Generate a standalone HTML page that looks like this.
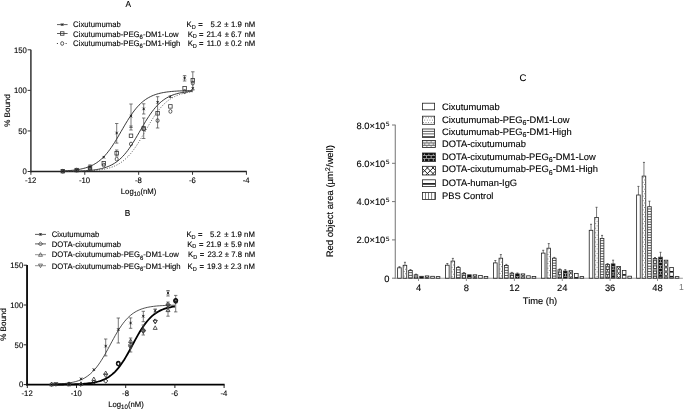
<!DOCTYPE html>
<html><head><meta charset="utf-8"><style>
html,body{margin:0;padding:0;background:#fff;}
svg{display:block;font-family:'Liberation Sans', Arial, Helvetica, sans-serif;text-rendering:geometricPrecision;}
text{fill:#000;stroke:#000;stroke-width:0.12px;}
</style></head><body>
<svg width="685" height="409" viewBox="0 0 685 409">
<rect width="685" height="409" fill="#fff"/>
<text transform="scale(0.965 1)" x="132.85" y="7.3" font-size="8.6" text-anchor="middle" >A</text>
<line x1="30.9" y1="49.8" x2="30.9" y2="172.2" stroke="#333" stroke-width="1.5" />
<line x1="30.2" y1="171.5" x2="246.8" y2="171.5" stroke="#222" stroke-width="1.3" />
<line x1="27.6" y1="49.8" x2="30.9" y2="49.8" stroke="#333" stroke-width="1.0" />
<text transform="scale(0.965 1)" x="27.77" y="52.5" font-size="8.0" text-anchor="end" >150</text>
<line x1="27.6" y1="90.37" x2="30.9" y2="90.37" stroke="#333" stroke-width="1.0" />
<text transform="scale(0.965 1)" x="27.77" y="93.07" font-size="8.0" text-anchor="end" >100</text>
<line x1="27.6" y1="130.94" x2="30.9" y2="130.94" stroke="#333" stroke-width="1.0" />
<text transform="scale(0.965 1)" x="27.77" y="133.63" font-size="8.0" text-anchor="end" >50</text>
<line x1="27.6" y1="171.5" x2="30.9" y2="171.5" stroke="#333" stroke-width="1.0" />
<text transform="scale(0.965 1)" x="27.77" y="174.2" font-size="8.0" text-anchor="end" >0</text>
<line x1="30.9" y1="171.5" x2="30.9" y2="174.8" stroke="#333" stroke-width="1.0" />
<text transform="scale(0.965 1)" x="31.81" y="182.9" font-size="8.0" text-anchor="middle" >-12</text>
<line x1="84.78" y1="171.5" x2="84.78" y2="174.8" stroke="#333" stroke-width="1.0" />
<text transform="scale(0.965 1)" x="87.65" y="182.9" font-size="8.0" text-anchor="middle" >-10</text>
<line x1="138.66" y1="171.5" x2="138.66" y2="174.8" stroke="#333" stroke-width="1.0" />
<text transform="scale(0.965 1)" x="143.48" y="182.9" font-size="8.0" text-anchor="middle" >-8</text>
<line x1="192.54" y1="171.5" x2="192.54" y2="174.8" stroke="#333" stroke-width="1.0" />
<text transform="scale(0.965 1)" x="199.32" y="182.9" font-size="8.0" text-anchor="middle" >-6</text>
<line x1="246.42" y1="171.5" x2="246.42" y2="174.8" stroke="#333" stroke-width="1.0" />
<text transform="scale(0.965 1)" x="255.15" y="182.9" font-size="8.0" text-anchor="middle" >-4</text>
<text transform="translate(10.4 110.5) rotate(-90)" font-size="8.0" text-anchor="middle">% Bound</text>
<text transform="scale(0.965 1)" x="143.63" y="193.8" font-size="8.0" text-anchor="middle" >Log<tspan font-size="6.3" dy="1.8">10</tspan><tspan dy="-1.8">(nM)</tspan></text>
<line x1="57" y1="24.6" x2="67.6" y2="24.6" stroke="#333" stroke-width="0.8" />
<path d="M60.95 23.35L63.45 25.85M60.95 25.85L63.45 23.35M62.2 23.35L62.2 25.85" stroke="#222" stroke-width="0.8" fill="none"/>
<text transform="scale(0.965 1)" x="75.75" y="27.3" font-size="8.0" text-anchor="start" xml:space="preserve">Cixutumumab</text>
<text transform="scale(0.965 1)" x="193.26" y="27.3" font-size="8.0" text-anchor="start" >K<tspan font-size="5.8" dy="1.9">D</tspan></text>
<text transform="scale(0.965 1)" x="205.49" y="27.3" font-size="8.0" text-anchor="start" >=</text>
<text transform="scale(0.965 1)" x="218.24" y="27.3" font-size="8.0" text-anchor="start" >5.2</text>
<text transform="scale(0.965 1)" x="232.33" y="27.3" font-size="8.0" text-anchor="start" >±</text>
<text transform="scale(0.965 1)" x="239.38" y="27.3" font-size="8.0" text-anchor="start" >1.9</text>
<text transform="scale(0.965 1)" x="253.37" y="27.3" font-size="8.0" text-anchor="start" >nM</text>
<line x1="57" y1="33.5" x2="67.6" y2="33.5" stroke="#333" stroke-width="0.8" />
<rect x="60.45" y="31.75" width="3.5" height="3.5" stroke="#333" stroke-width="0.8" fill="none"/>
<text transform="scale(0.965 1)" x="75.75" y="36.5" font-size="8.0" text-anchor="start" xml:space="preserve">Cixutumumab-PEG<tspan font-size="6.2" dy="2.1">6</tspan><tspan dy="-2.1">-DM1-Low</tspan></text>
<text transform="scale(0.965 1)" x="194.51" y="36.5" font-size="8.0" text-anchor="start" >K<tspan font-size="5.8" dy="1.9">D</tspan></text>
<text transform="scale(0.965 1)" x="206.11" y="36.5" font-size="8.0" text-anchor="start" >=</text>
<text transform="scale(0.965 1)" x="213.99" y="36.5" font-size="8.0" text-anchor="start" >21.4</text>
<text transform="scale(0.965 1)" x="232.95" y="36.5" font-size="8.0" text-anchor="start" >±</text>
<text transform="scale(0.965 1)" x="239.38" y="36.5" font-size="8.0" text-anchor="start" >6.7</text>
<text transform="scale(0.965 1)" x="253.37" y="36.5" font-size="8.0" text-anchor="start" >nM</text>
<line x1="56.9" y1="43.5" x2="58" y2="43.5" stroke="#333" stroke-width="0.9" />
<line x1="65.6" y1="43.5" x2="66.7" y2="43.5" stroke="#333" stroke-width="0.9" />
<ellipse cx="62.2" cy="43.5" rx="1.53" ry="1.87" stroke="#333" stroke-width="0.8" fill="none"/>
<text transform="scale(0.965 1)" x="75.75" y="46" font-size="8.0" text-anchor="start" xml:space="preserve">Cixutumumab-PEG<tspan font-size="6.2" dy="2.1">6</tspan><tspan dy="-2.1">-DM1-High</tspan></text>
<text transform="scale(0.965 1)" x="194.51" y="46" font-size="8.0" text-anchor="start" >K<tspan font-size="5.8" dy="1.9">D</tspan></text>
<text transform="scale(0.965 1)" x="206.11" y="46" font-size="8.0" text-anchor="start" >=</text>
<text transform="scale(0.965 1)" x="214.2" y="46" font-size="8.0" text-anchor="start" >11.0</text>
<text transform="scale(0.965 1)" x="232.95" y="46" font-size="8.0" text-anchor="start" >±</text>
<text transform="scale(0.965 1)" x="239.38" y="46" font-size="8.0" text-anchor="start" >0.2</text>
<text transform="scale(0.965 1)" x="253.37" y="46" font-size="8.0" text-anchor="start" >nM</text>
<path d="M62.69 170.97L64.31 170.89L65.94 170.8L67.56 170.7L69.18 170.58L70.8 170.44L72.43 170.29L74.05 170.11L75.67 169.91L77.3 169.67L78.92 169.41L80.54 169.11L82.17 168.76L83.79 168.37L85.41 167.93L87.04 167.42L88.66 166.85L90.28 166.2L91.91 165.47L93.53 164.65L95.15 163.73L96.78 162.7L98.4 161.55L100.02 160.27L101.64 158.86L103.27 157.31L104.89 155.61L106.51 153.77L108.14 151.77L109.76 149.62L111.38 147.34L113.01 144.92L114.63 142.38L116.25 139.75L117.88 137.03L119.5 134.26L121.12 131.45L122.75 128.64L124.37 125.85L125.99 123.11L127.61 120.44L129.24 117.86L130.86 115.4L132.48 113.06L134.11 110.87L135.73 108.82L137.35 106.91L138.98 105.16L140.6 103.56L142.22 102.1L143.85 100.77L145.47 99.58L147.09 98.5L148.72 97.54L150.34 96.69L151.96 95.92L153.58 95.25L155.21 94.65L156.83 94.12L158.45 93.65L160.08 93.24L161.7 92.88L163.32 92.57L164.95 92.29L166.57 92.05L168.19 91.83L169.82 91.65L171.44 91.48L173.06 91.34L174.69 91.22L176.31 91.11L177.93 91.01L179.55 90.93L181.18 90.86L182.8 90.8L184.42 90.74L186.05 90.69L187.67 90.65L189.29 90.61L190.92 90.58L192.54 90.56" stroke="#222" stroke-width="0.9" fill="none"/>
<path d="M62.69 171.39L64.31 171.37L65.94 171.36L67.56 171.33L69.18 171.31L70.8 171.28L72.43 171.25L74.05 171.21L75.67 171.17L77.3 171.12L78.92 171.06L80.54 171L82.17 170.93L83.79 170.84L85.41 170.74L87.04 170.63L88.66 170.51L90.28 170.36L91.91 170.19L93.53 170L95.15 169.78L96.78 169.53L98.4 169.25L100.02 168.92L101.64 168.55L103.27 168.13L104.89 167.66L106.51 167.12L108.14 166.5L109.76 165.81L111.38 165.03L113.01 164.16L114.63 163.18L116.25 162.08L117.88 160.87L119.5 159.52L121.12 158.03L122.75 156.4L124.37 154.62L125.99 152.69L127.61 150.61L129.24 148.39L130.86 146.03L132.48 143.55L134.11 140.95L135.73 138.27L137.35 135.52L138.98 132.72L140.6 129.91L142.22 127.11L143.85 124.34L145.47 121.63L147.09 119.01L148.72 116.5L150.34 114.1L151.96 111.84L153.58 109.73L155.21 107.76L156.83 105.94L158.45 104.26L160.08 102.74L161.7 101.35L163.32 100.1L164.95 98.97L166.57 97.96L168.19 97.06L169.82 96.26L171.44 95.54L173.06 94.91L174.69 94.35L176.31 93.86L177.93 93.42L179.55 93.04L181.18 92.7L182.8 92.41L184.42 92.15L186.05 91.93L187.67 91.73L189.29 91.55L190.92 91.4L192.54 91.27" stroke="#222" stroke-width="0.9" fill="none"/>
<path d="M62.69 171.43L64.31 171.42L65.94 171.41L67.56 171.4L69.18 171.38L70.8 171.36L72.43 171.34L74.05 171.32L75.67 171.29L77.3 171.26L78.92 171.22L80.54 171.18L82.17 171.14L83.79 171.08L85.41 171.02L87.04 170.95L88.66 170.87L90.28 170.78L91.91 170.67L93.53 170.55L95.15 170.41L96.78 170.25L98.4 170.06L100.02 169.86L101.64 169.62L103.27 169.34L104.89 169.03L106.51 168.68L108.14 168.27L109.76 167.82L111.38 167.3L113.01 166.71L114.63 166.04L116.25 165.29L117.88 164.45L119.5 163.5L121.12 162.45L122.75 161.27L124.37 159.96L125.99 158.52L127.61 156.94L129.24 155.2L130.86 153.32L132.48 151.29L134.11 149.11L135.73 146.8L137.35 144.35L138.98 141.79L140.6 139.13L142.22 136.4L143.85 133.62L145.47 130.81L147.09 128L148.72 125.22L150.34 122.49L151.96 119.84L153.58 117.29L155.21 114.86L156.83 112.55L158.45 110.39L160.08 108.37L161.7 106.5L163.32 104.78L164.95 103.21L166.57 101.78L168.19 100.49L169.82 99.32L171.44 98.28L173.06 97.34L174.69 96.5L176.31 95.76L177.93 95.1L179.55 94.52L181.18 94.01L182.8 93.56L184.42 93.16L186.05 92.81L187.67 92.5L189.29 92.23L190.92 91.99L192.54 91.79" stroke="#444" stroke-width="0.9" fill="none" stroke-dasharray="1 1.6"/>
<rect x="61.05" y="169.45" width="3.5" height="3.5" stroke="#333" stroke-width="0.8" fill="none"/>
<ellipse cx="62.8" cy="171.2" rx="1.53" ry="1.87" stroke="#333" stroke-width="0.8" fill="none"/>
<path d="M61.55 169.95L64.05 172.45M61.55 172.45L64.05 169.95M62.8 169.95L62.8 172.45" stroke="#222" stroke-width="0.8" fill="none"/>
<rect x="74.95" y="168.35" width="3.5" height="3.5" stroke="#333" stroke-width="0.8" fill="none"/>
<ellipse cx="76.7" cy="170.1" rx="1.53" ry="1.87" stroke="#333" stroke-width="0.8" fill="none"/>
<path d="M75.45 169.05L77.95 171.55M75.45 171.55L77.95 169.05M76.7 169.05L76.7 171.55" stroke="#222" stroke-width="0.8" fill="none"/>
<path d="M90 164.9L90 168.5M88.3 164.9L91.7 164.9M88.3 168.5L91.7 168.5" stroke="#444" stroke-width="0.7" fill="none"/>
<rect x="88.25" y="166.25" width="3.5" height="3.5" stroke="#333" stroke-width="0.8" fill="none"/>
<ellipse cx="90" cy="168.3" rx="1.53" ry="1.87" stroke="#333" stroke-width="0.8" fill="none"/>
<path d="M88.75 165.55L91.25 168.05M88.75 168.05L91.25 165.55M90 165.55L90 168.05" stroke="#222" stroke-width="0.8" fill="none"/>
<rect x="102.05" y="161.55" width="3.5" height="3.5" stroke="#333" stroke-width="0.8" fill="none"/>
<ellipse cx="103.8" cy="165.1" rx="1.53" ry="1.87" stroke="#333" stroke-width="0.8" fill="none"/>
<path d="M102.55 155.95L105.05 158.45M102.55 158.45L105.05 155.95M103.8 155.95L103.8 158.45" stroke="#222" stroke-width="0.8" fill="none"/>
<path d="M116.7 123.5L116.7 143.1M115 123.5L118.4 123.5M115 143.1L118.4 143.1" stroke="#444" stroke-width="0.7" fill="none"/>
<path d="M116.7 150L116.7 156M115 150L118.4 150M115 156L118.4 156" stroke="#444" stroke-width="0.7" fill="none"/>
<rect x="114.95" y="151.45" width="3.5" height="3.5" stroke="#333" stroke-width="0.8" fill="none"/>
<ellipse cx="116.7" cy="159.1" rx="1.53" ry="1.87" stroke="#333" stroke-width="0.8" fill="none"/>
<path d="M115.45 131.75L117.95 134.25M115.45 134.25L117.95 131.75M116.7 131.75L116.7 134.25" stroke="#222" stroke-width="0.8" fill="none"/>
<path d="M131 104L131 127.5M129.3 104L132.7 104M129.3 127.5L132.7 127.5" stroke="#444" stroke-width="0.7" fill="none"/>
<path d="M131 126L131 130M129.3 126L132.7 126M129.3 130L132.7 130" stroke="#444" stroke-width="0.7" fill="none"/>
<rect x="129.25" y="134.05" width="3.5" height="3.5" stroke="#333" stroke-width="0.8" fill="none"/>
<ellipse cx="131" cy="144" rx="1.53" ry="1.87" stroke="#333" stroke-width="0.8" fill="none"/>
<path d="M129.75 114.85L132.25 117.35M129.75 117.35L132.25 114.85M131 114.85L131 117.35" stroke="#222" stroke-width="0.8" fill="none"/>
<path d="M143.7 103.8L143.7 114M142 103.8L145.4 103.8M142 114L145.4 114" stroke="#444" stroke-width="0.7" fill="none"/>
<path d="M143.7 118L143.7 138.5M142 118L145.4 118M142 138.5L145.4 138.5" stroke="#444" stroke-width="0.7" fill="none"/>
<rect x="141.95" y="126.65" width="3.5" height="3.5" stroke="#333" stroke-width="0.8" fill="none"/>
<ellipse cx="143.7" cy="129" rx="1.53" ry="1.87" stroke="#333" stroke-width="0.8" fill="none"/>
<path d="M142.45 107.65L144.95 110.15M142.45 110.15L144.95 107.65M143.7 107.65L143.7 110.15" stroke="#222" stroke-width="0.8" fill="none"/>
<path d="M157.6 96.7L157.6 128M155.9 96.7L159.3 96.7M155.9 128L159.3 128" stroke="#444" stroke-width="0.7" fill="none"/>
<rect x="155.85" y="111.55" width="3.5" height="3.5" stroke="#333" stroke-width="0.8" fill="none"/>
<ellipse cx="157.6" cy="120.6" rx="1.53" ry="1.87" stroke="#333" stroke-width="0.8" fill="none"/>
<path d="M156.35 101.05L158.85 103.55M156.35 103.55L158.85 101.05M157.6 101.05L157.6 103.55" stroke="#222" stroke-width="0.8" fill="none"/>
<rect x="168.65" y="104.65" width="3.5" height="3.5" stroke="#333" stroke-width="0.8" fill="none"/>
<ellipse cx="170.4" cy="111.4" rx="1.53" ry="1.87" stroke="#333" stroke-width="0.8" fill="none"/>
<path d="M169.15 95.45L171.65 97.95M169.15 97.95L171.65 95.45M170.4 95.45L170.4 97.95" stroke="#222" stroke-width="0.8" fill="none"/>
<path d="M184.6 75.6L184.6 81M182.9 75.6L186.3 75.6M182.9 81L186.3 81" stroke="#444" stroke-width="0.7" fill="none"/>
<rect x="182.85" y="86.55" width="3.5" height="3.5" stroke="#333" stroke-width="0.8" fill="none"/>
<ellipse cx="184.6" cy="91.7" rx="1.53" ry="1.87" stroke="#333" stroke-width="0.8" fill="none"/>
<path d="M183.35 76.85L185.85 79.35M183.35 79.35L185.85 76.85M184.6 76.85L184.6 79.35" stroke="#222" stroke-width="0.8" fill="none"/>
<path d="M192.8 71.8L192.8 90M191.1 71.8L194.5 71.8M191.1 90L194.5 90" stroke="#444" stroke-width="0.7" fill="none"/>
<rect x="191.05" y="78.55" width="3.5" height="3.5" stroke="#333" stroke-width="0.8" fill="none"/>
<ellipse cx="192.8" cy="83.2" rx="1.53" ry="1.87" stroke="#333" stroke-width="0.8" fill="none"/>
<path d="M191.55 87.05L194.05 89.55M191.55 89.55L194.05 87.05M192.8 87.05L192.8 89.55" stroke="#222" stroke-width="0.8" fill="none"/>
<text transform="scale(0.965 1)" x="132.12" y="215.8" font-size="8.6" text-anchor="middle" >B</text>
<line x1="27.05" y1="265.1" x2="27.05" y2="385.4" stroke="#111" stroke-width="1.9" />
<line x1="26.2" y1="384.6" x2="224.6" y2="384.6" stroke="#000" stroke-width="1.7" />
<line x1="23.6" y1="265.2" x2="27.05" y2="265.2" stroke="#222" stroke-width="1.0" />
<text transform="scale(0.965 1)" x="24.04" y="267.9" font-size="8.0" text-anchor="end" >150</text>
<line x1="23.6" y1="305" x2="27.05" y2="305" stroke="#222" stroke-width="1.0" />
<text transform="scale(0.965 1)" x="24.04" y="307.7" font-size="8.0" text-anchor="end" >100</text>
<line x1="23.6" y1="344.8" x2="27.05" y2="344.8" stroke="#222" stroke-width="1.0" />
<text transform="scale(0.965 1)" x="24.04" y="347.5" font-size="8.0" text-anchor="end" >50</text>
<line x1="23.6" y1="384.6" x2="27.05" y2="384.6" stroke="#222" stroke-width="1.0" />
<text transform="scale(0.965 1)" x="24.04" y="387.3" font-size="8.0" text-anchor="end" >0</text>
<line x1="27.3" y1="384.6" x2="27.3" y2="388" stroke="#222" stroke-width="1.0" />
<text transform="scale(0.965 1)" x="28.08" y="395.7" font-size="8.0" text-anchor="middle" >-12</text>
<line x1="76.5" y1="384.6" x2="76.5" y2="388" stroke="#222" stroke-width="1.0" />
<text transform="scale(0.965 1)" x="79.07" y="395.7" font-size="8.0" text-anchor="middle" >-10</text>
<line x1="125.7" y1="384.6" x2="125.7" y2="388" stroke="#222" stroke-width="1.0" />
<text transform="scale(0.965 1)" x="130.05" y="395.7" font-size="8.0" text-anchor="middle" >-8</text>
<line x1="174.9" y1="384.6" x2="174.9" y2="388" stroke="#222" stroke-width="1.0" />
<text transform="scale(0.965 1)" x="181.04" y="395.7" font-size="8.0" text-anchor="middle" >-6</text>
<line x1="224.1" y1="384.6" x2="224.1" y2="388" stroke="#222" stroke-width="1.0" />
<text transform="scale(0.965 1)" x="232.02" y="395.7" font-size="8.0" text-anchor="middle" >-4</text>
<text transform="translate(6.3 324.5) rotate(-90)" font-size="8.0" text-anchor="middle">% Bound</text>
<text transform="scale(0.965 1)" x="130.57" y="406.7" font-size="8.0" text-anchor="middle" >Log<tspan font-size="6.3" dy="1.8">10</tspan><tspan dy="-1.8">(nM)</tspan></text>
<line x1="35" y1="234.4" x2="46" y2="234.4" stroke="#333" stroke-width="0.8" />
<path d="M39.25 233.15L41.75 235.65M39.25 235.65L41.75 233.15M40.5 233.15L40.5 235.65" stroke="#222" stroke-width="0.8" fill="none"/>
<text transform="scale(0.965 1)" x="53.58" y="236.8" font-size="8.0" text-anchor="start" xml:space="preserve">Cixutumumab</text>
<text transform="scale(0.965 1)" x="193.16" y="236.8" font-size="8.0" text-anchor="start" >K<tspan font-size="5.8" dy="1.9">D</tspan></text>
<text transform="scale(0.965 1)" x="205.18" y="236.8" font-size="8.0" text-anchor="start" >=</text>
<text transform="scale(0.965 1)" x="217.62" y="236.8" font-size="8.0" text-anchor="start" >5.2</text>
<text transform="scale(0.965 1)" x="232.33" y="236.8" font-size="8.0" text-anchor="start" >±</text>
<text transform="scale(0.965 1)" x="239.38" y="236.8" font-size="8.0" text-anchor="start" >1.9</text>
<text transform="scale(0.965 1)" x="252.95" y="236.8" font-size="8.0" text-anchor="start" >nM</text>
<line x1="35" y1="243.9" x2="46" y2="243.9" stroke="#333" stroke-width="0.8" />
<path d="M40.5 241.8L42.6 243.9L40.5 246L38.4 243.9Z" stroke="#333" stroke-width="0.8" fill="none"/>
<text transform="scale(0.965 1)" x="53.58" y="246.5" font-size="8.0" text-anchor="start" xml:space="preserve">DOTA-cixutumumab</text>
<text transform="scale(0.965 1)" x="193.99" y="246.5" font-size="8.0" text-anchor="start" >K<tspan font-size="5.8" dy="1.9">D</tspan></text>
<text transform="scale(0.965 1)" x="206.22" y="246.5" font-size="8.0" text-anchor="start" >=</text>
<text transform="scale(0.965 1)" x="213.78" y="246.5" font-size="8.0" text-anchor="start" >21.9</text>
<text transform="scale(0.965 1)" x="232.33" y="246.5" font-size="8.0" text-anchor="start" >±</text>
<text transform="scale(0.965 1)" x="239.38" y="246.5" font-size="8.0" text-anchor="start" >5.9</text>
<text transform="scale(0.965 1)" x="252.95" y="246.5" font-size="8.0" text-anchor="start" >nM</text>
<line x1="35" y1="254.7" x2="46" y2="254.7" stroke="#777" stroke-width="0.8" />
<path d="M38.5 256.3L42.5 256.3L40.5 252.7Z" stroke="#555" stroke-width="0.8" fill="none"/>
<text transform="scale(0.965 1)" x="53.58" y="257.4" font-size="8.0" text-anchor="start" xml:space="preserve">DOTA-cixutumumab-PEG<tspan font-size="6.2" dy="2.1">6</tspan><tspan dy="-2.1">-DM1-Low</tspan></text>
<text transform="scale(0.965 1)" x="194.92" y="257.4" font-size="8.0" text-anchor="start" >K<tspan font-size="5.8" dy="1.9">D</tspan></text>
<text transform="scale(0.965 1)" x="207.05" y="257.4" font-size="8.0" text-anchor="start" >=</text>
<text transform="scale(0.965 1)" x="215.03" y="257.4" font-size="8.0" text-anchor="start" >23.2</text>
<text transform="scale(0.965 1)" x="232.95" y="257.4" font-size="8.0" text-anchor="start" >±</text>
<text transform="scale(0.965 1)" x="239.59" y="257.4" font-size="8.0" text-anchor="start" >7.8</text>
<text transform="scale(0.965 1)" x="253.37" y="257.4" font-size="8.0" text-anchor="start" >nM</text>
<line x1="35" y1="265.7" x2="46" y2="265.7" stroke="#777" stroke-width="0.8" />
<path d="M38.5 264.1L42.5 264.1L40.5 267.7Z" stroke="#555" stroke-width="0.8" fill="none"/>
<text transform="scale(0.965 1)" x="53.58" y="268.6" font-size="8.0" text-anchor="start" xml:space="preserve">DOTA-cixutumumab-PEG<tspan font-size="6.2" dy="2.1">6</tspan><tspan dy="-2.1">-DM1-High</tspan></text>
<text transform="scale(0.965 1)" x="194.4" y="268.6" font-size="8.0" text-anchor="start" >K<tspan font-size="5.8" dy="1.9">D</tspan></text>
<text transform="scale(0.965 1)" x="206.63" y="268.6" font-size="8.0" text-anchor="start" >=</text>
<text transform="scale(0.965 1)" x="214.4" y="268.6" font-size="8.0" text-anchor="start" >19.3</text>
<text transform="scale(0.965 1)" x="232.33" y="268.6" font-size="8.0" text-anchor="start" >±</text>
<text transform="scale(0.965 1)" x="239.17" y="268.6" font-size="8.0" text-anchor="start" >2.3</text>
<text transform="scale(0.965 1)" x="252.95" y="268.6" font-size="8.0" text-anchor="start" >nM</text>
<path d="M52.39 384.25L53.92 384.19L55.45 384.13L56.99 384.06L58.52 383.97L60.05 383.88L61.58 383.77L63.11 383.64L64.64 383.5L66.17 383.33L67.71 383.14L69.24 382.92L70.77 382.66L72.3 382.37L73.83 382.04L75.36 381.66L76.89 381.23L78.42 380.73L79.96 380.17L81.49 379.53L83.02 378.8L84.55 377.99L86.08 377.06L87.61 376.03L89.14 374.87L90.68 373.57L92.21 372.14L93.74 370.56L95.27 368.82L96.8 366.93L98.33 364.88L99.86 362.68L101.4 360.33L102.93 357.85L104.46 355.25L105.99 352.55L107.52 349.77L109.05 346.94L110.58 344.09L112.11 341.25L113.65 338.44L115.18 335.7L116.71 333.04L118.24 330.5L119.77 328.08L121.3 325.8L122.83 323.68L124.37 321.71L125.9 319.89L127.43 318.23L128.96 316.73L130.49 315.37L132.02 314.14L133.55 313.04L135.08 312.06L136.62 311.19L138.15 310.42L139.68 309.74L141.21 309.14L142.74 308.61L144.27 308.15L145.8 307.74L147.34 307.39L148.87 307.08L150.4 306.81L151.93 306.57L153.46 306.36L154.99 306.18L156.52 306.03L158.06 305.89L159.59 305.77L161.12 305.67L162.65 305.58L164.18 305.51L165.71 305.44L167.24 305.38L168.77 305.33L170.31 305.29L171.84 305.25L173.37 305.21L174.9 305.19" stroke="#222" stroke-width="0.8" fill="none"/>
<path d="M52.39 384.56L53.92 384.55L55.45 384.54L56.99 384.53L58.52 384.52L60.05 384.51L61.58 384.5L63.11 384.48L64.64 384.46L66.17 384.44L67.71 384.42L69.24 384.39L70.77 384.36L72.3 384.32L73.83 384.28L75.36 384.23L76.89 384.17L78.42 384.1L79.96 384.03L81.49 383.94L83.02 383.84L84.55 383.72L86.08 383.59L87.61 383.44L89.14 383.26L90.68 383.06L92.21 382.82L93.74 382.56L95.27 382.25L96.8 381.9L98.33 381.5L99.86 381.05L101.4 380.53L102.93 379.93L104.46 379.26L105.99 378.5L107.52 377.65L109.05 376.68L110.58 375.6L112.11 374.39L113.65 373.04L115.18 371.56L116.71 369.92L118.24 368.12L119.77 366.17L121.3 364.06L122.83 361.8L124.37 359.4L125.9 356.87L127.43 354.23L128.96 351.49L130.49 348.69L132.02 345.85L133.55 343L135.08 340.17L136.62 337.38L138.15 334.67L139.68 332.06L141.21 329.56L142.74 327.19L144.27 324.97L145.8 322.91L147.34 321L148.87 319.24L150.4 317.64L151.93 316.19L153.46 314.88L154.99 313.71L156.52 312.66L158.06 311.72L159.59 310.89L161.12 310.15L162.65 309.5L164.18 308.93L165.71 308.43L167.24 307.99L168.77 307.6L170.31 307.27L171.84 306.97L173.37 306.71L174.9 306.49" stroke="#000" stroke-width="1.8" fill="none"/>
<path d="M51.6 382.2L53.7 384.3L51.6 386.4L49.5 384.3Z" stroke="#222" stroke-width="0.95" fill="none"/>
<path d="M49.6 385.9L53.6 385.9L51.6 382.3Z" stroke="#444" stroke-width="0.9" fill="none"/>
<path d="M53.9 382.7L57.9 382.7L55.9 386.3Z" stroke="#444" stroke-width="0.9" fill="none"/>
<path d="M54.65 382.75L57.15 385.25M54.65 385.25L57.15 382.75M55.9 382.75L55.9 385.25" stroke="#222" stroke-width="0.8" fill="none"/>
<path d="M69 381.9L71.1 384L69 386.1L66.9 384Z" stroke="#222" stroke-width="0.95" fill="none"/>
<path d="M67 385.8L71 385.8L69 382.2Z" stroke="#444" stroke-width="0.9" fill="none"/>
<path d="M67.75 382.35L70.25 384.85M67.75 384.85L70.25 382.35M69 382.35L69 384.85" stroke="#222" stroke-width="0.8" fill="none"/>
<path d="M81 382.2L83.1 384.3L81 386.4L78.9 384.3Z" stroke="#222" stroke-width="0.95" fill="none"/>
<path d="M79 385.4L83 385.4L81 381.8Z" stroke="#444" stroke-width="0.9" fill="none"/>
<path d="M79.75 377.65L82.25 380.15M79.75 380.15L82.25 377.65M81 377.65L81 380.15" stroke="#222" stroke-width="0.8" fill="none"/>
<path d="M91.8 380.6L95.8 380.6L93.8 377Z" stroke="#444" stroke-width="0.9" fill="none"/>
<path d="M93.8 380.1L95.9 382.2L93.8 384.3L91.7 382.2Z" stroke="#222" stroke-width="0.95" fill="none"/>
<path d="M92.55 368.45L95.05 370.95M92.55 370.95L95.05 368.45M93.8 368.45L93.8 370.95" stroke="#222" stroke-width="0.8" fill="none"/>
<path d="M105.7 339L105.7 355.9M104 339L107.4 339M104 355.9L107.4 355.9" stroke="#444" stroke-width="0.7" fill="none"/>
<path d="M103.7 374.6L107.7 374.6L105.7 371Z" stroke="#444" stroke-width="0.9" fill="none"/>
<path d="M103.7 373.9L107.7 373.9L105.7 377.5Z" stroke="#444" stroke-width="0.9" fill="none"/>
<path d="M105.7 378.9L107.8 381L105.7 383.1L103.6 381Z" stroke="#222" stroke-width="0.95" fill="none"/>
<path d="M104.45 344.85L106.95 347.35M104.45 347.35L106.95 344.85M105.7 344.85L105.7 347.35" stroke="#222" stroke-width="0.8" fill="none"/>
<path d="M118.3 318L118.3 343M116.6 318L120 318M116.6 343L120 343" stroke="#444" stroke-width="0.7" fill="none"/>
<ellipse cx="118.3" cy="363.6" rx="1.71" ry="2.09" stroke="#111" stroke-width="1.4" fill="none"/>
<path d="M118.3 361.8L120.4 363.9L118.3 366L116.2 363.9Z" stroke="#222" stroke-width="0.95" fill="none"/>
<path d="M117.05 328.25L119.55 330.75M117.05 330.75L119.55 328.25M118.3 328.25L118.3 330.75" stroke="#222" stroke-width="0.8" fill="none"/>
<path d="M130.6 317.9L130.6 328.3M128.9 317.9L132.3 317.9M128.9 328.3L132.3 328.3" stroke="#444" stroke-width="0.7" fill="none"/>
<path d="M130.6 338L130.6 352M128.9 338L132.3 338M128.9 352L132.3 352" stroke="#444" stroke-width="0.7" fill="none"/>
<path d="M128.6 342.6L132.6 342.6L130.6 339Z" stroke="#444" stroke-width="0.9" fill="none"/>
<path d="M130.6 342.9L132.7 345L130.6 347.1L128.5 345Z" stroke="#222" stroke-width="0.95" fill="none"/>
<path d="M128.6 345.9L132.6 345.9L130.6 349.5Z" stroke="#444" stroke-width="0.9" fill="none"/>
<path d="M129.35 321.75L131.85 324.25M129.35 324.25L131.85 321.75M130.6 321.75L130.6 324.25" stroke="#222" stroke-width="0.8" fill="none"/>
<path d="M143.3 311.3L143.3 321.7M141.6 311.3L145 311.3M141.6 321.7L145 321.7" stroke="#444" stroke-width="0.7" fill="none"/>
<path d="M143.3 325L143.3 335M141.6 325L145 325M141.6 335L145 335" stroke="#444" stroke-width="0.7" fill="none"/>
<path d="M143.3 328.7L145.4 330.8L143.3 332.9L141.2 330.8Z" stroke="#222" stroke-width="0.95" fill="none"/>
<path d="M141.3 331.1L145.3 331.1L143.3 327.5Z" stroke="#444" stroke-width="0.9" fill="none"/>
<path d="M141.3 329.9L145.3 329.9L143.3 333.5Z" stroke="#444" stroke-width="0.9" fill="none"/>
<path d="M142.05 314.95L144.55 317.45M142.05 317.45L144.55 314.95M143.3 314.95L143.3 317.45" stroke="#222" stroke-width="0.8" fill="none"/>
<path d="M155.2 309L155.2 313M153.5 309L156.9 309M153.5 313L156.9 313" stroke="#444" stroke-width="0.7" fill="none"/>
<path d="M155.2 318.9L157.3 321L155.2 323.1L153.1 321Z" stroke="#222" stroke-width="0.95" fill="none"/>
<path d="M153.2 329.4L157.2 329.4L155.2 325.8Z" stroke="#444" stroke-width="0.9" fill="none"/>
<path d="M153.2 320.4L157.2 320.4L155.2 324Z" stroke="#444" stroke-width="0.9" fill="none"/>
<path d="M153.95 309.45L156.45 311.95M153.95 311.95L156.45 309.45M155.2 309.45L155.2 311.95" stroke="#222" stroke-width="0.8" fill="none"/>
<path d="M168 290.5L168 296M166.3 290.5L169.7 290.5M166.3 296L169.7 296" stroke="#444" stroke-width="0.7" fill="none"/>
<path d="M168 302L168 316.2M166.3 302L169.7 302M166.3 316.2L169.7 316.2" stroke="#444" stroke-width="0.7" fill="none"/>
<path d="M168 302.5L170.1 304.6L168 306.7L165.9 304.6Z" stroke="#222" stroke-width="0.95" fill="none"/>
<path d="M166 311.6L170 311.6L168 308Z" stroke="#444" stroke-width="0.9" fill="none"/>
<path d="M166 304.4L170 304.4L168 308Z" stroke="#444" stroke-width="0.9" fill="none"/>
<path d="M166.75 291.75L169.25 294.25M166.75 294.25L169.25 291.75M168 291.75L168 294.25" stroke="#222" stroke-width="0.8" fill="none"/>
<path d="M175.7 295.4L175.7 311.9M174 295.4L177.4 295.4M174 311.9L177.4 311.9" stroke="#444" stroke-width="0.7" fill="none"/>
<path d="M175.7 298.4L177.8 300.5L175.7 302.6L173.6 300.5Z" stroke="#222" stroke-width="0.95" fill="none"/>
<path d="M173.7 301.8L177.7 301.8L175.7 298.2Z" stroke="#444" stroke-width="0.9" fill="none"/>
<path d="M173.7 299.9L177.7 299.9L175.7 303.5Z" stroke="#444" stroke-width="0.9" fill="none"/>
<ellipse cx="175.7" cy="300.8" rx="1.71" ry="2.09" stroke="#111" stroke-width="1.4" fill="none"/>
<path d="M174.45 300.75L176.95 303.25M174.45 303.25L176.95 300.75M175.7 300.75L175.7 303.25" stroke="#222" stroke-width="0.8" fill="none"/>
<text x="523" y="80.8" font-size="9.6" text-anchor="middle" >C</text>
<line x1="395.3" y1="124.8" x2="395.3" y2="278.8" stroke="#8a8a8a" stroke-width="1.2" />
<line x1="394.7" y1="278.2" x2="682.9" y2="278.2" stroke="#9a9a9a" stroke-width="1.1" />
<line x1="392" y1="125" x2="395.3" y2="125" stroke="#777" stroke-width="1.0" />
<text x="385.3" y="128.5" font-size="9.35" text-anchor="end">8.0×10</text>
<text x="385.9" y="125.6" font-size="6.1">5</text>
<line x1="392" y1="163.3" x2="395.3" y2="163.3" stroke="#777" stroke-width="1.0" />
<text x="385.3" y="166.8" font-size="9.35" text-anchor="end">6.0×10</text>
<text x="385.9" y="163.9" font-size="6.1">5</text>
<line x1="392" y1="201.6" x2="395.3" y2="201.6" stroke="#777" stroke-width="1.0" />
<text x="385.3" y="205.1" font-size="9.35" text-anchor="end">4.0×10</text>
<text x="385.9" y="202.2" font-size="6.1">5</text>
<line x1="392" y1="239.9" x2="395.3" y2="239.9" stroke="#777" stroke-width="1.0" />
<text x="385.3" y="243.4" font-size="9.35" text-anchor="end">2.0×10</text>
<text x="385.9" y="240.5" font-size="6.1">5</text>
<line x1="392" y1="278.2" x2="395.3" y2="278.2" stroke="#777" stroke-width="1.0" />
<text x="389.5" y="281.6" font-size="9.35" text-anchor="end" >0</text>
<text transform="translate(332.9 201.2) rotate(-90)" font-size="9.5" text-anchor="middle">Red object area (µm<tspan font-size="6.8" dy="-3.4">2</tspan><tspan dy="3.4">/well)</tspan></text>
<text x="540" y="304" font-size="9.35" text-anchor="middle" >Time (h)</text>
<line x1="399.43" y1="266.7" x2="399.43" y2="267.8" stroke="#444" stroke-width="0.7" />
<line x1="398.43" y1="266.7" x2="400.43" y2="266.7" stroke="#444" stroke-width="0.8" />
<svg x="397.63" y="267.8" width="3.6" height="10.4" overflow="hidden"><rect width="3.6" height="10.4" fill="#fff"/></svg>
<rect x="397.63" y="267.8" width="3.6" height="10.4" fill="none" stroke="#222" stroke-width="0.8"/>
<line x1="404.95" y1="262.3" x2="404.95" y2="265.3" stroke="#444" stroke-width="0.7" />
<line x1="403.95" y1="262.3" x2="405.95" y2="262.3" stroke="#444" stroke-width="0.8" />
<svg x="403.15" y="265.3" width="3.6" height="12.9" overflow="hidden"><rect width="3.6" height="12.9" fill="#fff"/><rect x="0.6" y="1.2" width="0.8" height="0.8" fill="#555"/><rect x="3.2" y="1.2" width="0.8" height="0.8" fill="#555"/><rect x="1.9" y="3.5" width="0.8" height="0.8" fill="#555"/><rect x="0.6" y="5.8" width="0.8" height="0.8" fill="#555"/><rect x="3.2" y="5.8" width="0.8" height="0.8" fill="#555"/><rect x="1.9" y="8.1" width="0.8" height="0.8" fill="#555"/><rect x="0.6" y="10.4" width="0.8" height="0.8" fill="#555"/><rect x="3.2" y="10.4" width="0.8" height="0.8" fill="#555"/><rect x="1.9" y="12.7" width="0.8" height="0.8" fill="#555"/></svg>
<rect x="403.15" y="265.3" width="3.6" height="12.9" fill="none" stroke="#222" stroke-width="0.8"/>
<line x1="410.47" y1="269.6" x2="410.47" y2="270.4" stroke="#444" stroke-width="0.7" />
<line x1="409.47" y1="269.6" x2="411.47" y2="269.6" stroke="#444" stroke-width="0.8" />
<svg x="408.67" y="270.4" width="3.6" height="7.8" overflow="hidden"><rect width="3.6" height="7.8" fill="#fff"/><rect x="0" y="1.9" width="3.6" height="0.8" fill="#333"/><rect x="0" y="4.5" width="3.6" height="0.8" fill="#333"/><rect x="0" y="7.1" width="3.6" height="0.8" fill="#333"/></svg>
<rect x="408.67" y="270.4" width="3.6" height="7.8" fill="none" stroke="#222" stroke-width="0.8"/>
<line x1="415.99" y1="274.2" x2="415.99" y2="274.8" stroke="#444" stroke-width="0.7" />
<line x1="414.99" y1="274.2" x2="416.99" y2="274.2" stroke="#444" stroke-width="0.8" />
<svg x="414.19" y="274.8" width="3.6" height="3.4" overflow="hidden"><rect width="3.6" height="3.4" fill="#fff"/><rect x="0" y="1.9" width="3.6" height="0.85" fill="#333"/><rect x="1.4" y="0" width="0.8" height="1.9" fill="#333"/><rect x="-0.1" y="1.9" width="0.8" height="2.6" fill="#333"/><rect x="2.9" y="1.9" width="0.8" height="2.6" fill="#333"/></svg>
<rect x="414.19" y="274.8" width="3.6" height="3.4" fill="none" stroke="#222" stroke-width="0.8"/>
<svg x="419.71" y="276.3" width="3.6" height="1.9" overflow="hidden"><rect width="3.6" height="1.9" fill="#111"/></svg>
<rect x="419.71" y="276.3" width="3.6" height="1.9" fill="none" stroke="#222" stroke-width="0.8"/>
<svg x="425.23" y="275.9" width="3.6" height="2.3" overflow="hidden"><rect width="3.6" height="2.3" fill="#fff"/><path d="M0 0L3.6 4.6M3.6 0L0 4.6M0 4.6L3.6 9.2M3.6 4.6L0 9.2" stroke="#222" stroke-width="0.8" fill="none"/></svg>
<rect x="425.23" y="275.9" width="3.6" height="2.3" fill="none" stroke="#222" stroke-width="0.8"/>
<svg x="430.75" y="276.3" width="3.6" height="1.9" overflow="hidden"><rect width="3.6" height="1.9" fill="#fff"/></svg>
<rect x="430.75" y="276.3" width="3.6" height="1.9" fill="none" stroke="#222" stroke-width="0.8"/>
<svg x="436.27" y="276.6" width="3.6" height="1.6" overflow="hidden"><rect width="3.6" height="1.6" fill="#fff"/></svg>
<rect x="436.27" y="276.6" width="3.6" height="1.6" fill="none" stroke="#222" stroke-width="0.8"/>
<line x1="418.5" y1="278.2" x2="418.5" y2="281" stroke="#777" stroke-width="0.8" />
<text x="418.5" y="290.6" font-size="9.35" text-anchor="middle" >4</text>
<line x1="447.33" y1="263.5" x2="447.33" y2="265.2" stroke="#444" stroke-width="0.7" />
<line x1="446.33" y1="263.5" x2="448.33" y2="263.5" stroke="#444" stroke-width="0.8" />
<svg x="445.53" y="265.2" width="3.6" height="13" overflow="hidden"><rect width="3.6" height="13" fill="#fff"/></svg>
<rect x="445.53" y="265.2" width="3.6" height="13" fill="none" stroke="#222" stroke-width="0.8"/>
<line x1="452.85" y1="258.4" x2="452.85" y2="261.1" stroke="#444" stroke-width="0.7" />
<line x1="451.85" y1="258.4" x2="453.85" y2="258.4" stroke="#444" stroke-width="0.8" />
<svg x="451.05" y="261.1" width="3.6" height="17.1" overflow="hidden"><rect width="3.6" height="17.1" fill="#fff"/><rect x="0.6" y="1.2" width="0.8" height="0.8" fill="#555"/><rect x="3.2" y="1.2" width="0.8" height="0.8" fill="#555"/><rect x="1.9" y="3.5" width="0.8" height="0.8" fill="#555"/><rect x="0.6" y="5.8" width="0.8" height="0.8" fill="#555"/><rect x="3.2" y="5.8" width="0.8" height="0.8" fill="#555"/><rect x="1.9" y="8.1" width="0.8" height="0.8" fill="#555"/><rect x="0.6" y="10.4" width="0.8" height="0.8" fill="#555"/><rect x="3.2" y="10.4" width="0.8" height="0.8" fill="#555"/><rect x="1.9" y="12.7" width="0.8" height="0.8" fill="#555"/><rect x="0.6" y="15" width="0.8" height="0.8" fill="#555"/><rect x="3.2" y="15" width="0.8" height="0.8" fill="#555"/></svg>
<rect x="451.05" y="261.1" width="3.6" height="17.1" fill="none" stroke="#222" stroke-width="0.8"/>
<line x1="458.37" y1="266.6" x2="458.37" y2="267.6" stroke="#444" stroke-width="0.7" />
<line x1="457.37" y1="266.6" x2="459.37" y2="266.6" stroke="#444" stroke-width="0.8" />
<svg x="456.57" y="267.6" width="3.6" height="10.6" overflow="hidden"><rect width="3.6" height="10.6" fill="#fff"/><rect x="0" y="1.9" width="3.6" height="0.8" fill="#333"/><rect x="0" y="4.5" width="3.6" height="0.8" fill="#333"/><rect x="0" y="7.1" width="3.6" height="0.8" fill="#333"/><rect x="0" y="9.7" width="3.6" height="0.8" fill="#333"/></svg>
<rect x="456.57" y="267.6" width="3.6" height="10.6" fill="none" stroke="#222" stroke-width="0.8"/>
<line x1="463.89" y1="272.6" x2="463.89" y2="273.3" stroke="#444" stroke-width="0.7" />
<line x1="462.89" y1="272.6" x2="464.89" y2="272.6" stroke="#444" stroke-width="0.8" />
<svg x="462.09" y="273.3" width="3.6" height="4.9" overflow="hidden"><rect width="3.6" height="4.9" fill="#fff"/><rect x="0" y="1.9" width="3.6" height="0.85" fill="#333"/><rect x="1.4" y="0" width="0.8" height="1.9" fill="#333"/><rect x="0" y="4.5" width="3.6" height="0.85" fill="#333"/><rect x="-0.1" y="1.9" width="0.8" height="2.6" fill="#333"/><rect x="2.9" y="1.9" width="0.8" height="2.6" fill="#333"/><rect x="1.4" y="4.5" width="0.8" height="2.6" fill="#333"/></svg>
<rect x="462.09" y="273.3" width="3.6" height="4.9" fill="none" stroke="#222" stroke-width="0.8"/>
<svg x="467.61" y="274.8" width="3.6" height="3.4" overflow="hidden"><rect width="3.6" height="3.4" fill="#111"/><rect x="0" y="2.2" width="3.6" height="0.55" fill="#eee"/><rect x="1.5" y="2.8" width="0.6" height="2.3" fill="#eee"/></svg>
<rect x="467.61" y="274.8" width="3.6" height="3.4" fill="none" stroke="#222" stroke-width="0.8"/>
<svg x="473.13" y="274.8" width="3.6" height="3.4" overflow="hidden"><rect width="3.6" height="3.4" fill="#fff"/><path d="M0 0L3.6 4.6M3.6 0L0 4.6M0 4.6L3.6 9.2M3.6 4.6L0 9.2" stroke="#222" stroke-width="0.8" fill="none"/></svg>
<rect x="473.13" y="274.8" width="3.6" height="3.4" fill="none" stroke="#222" stroke-width="0.8"/>
<svg x="478.65" y="275.5" width="3.6" height="2.7" overflow="hidden"><rect width="3.6" height="2.7" fill="#fff"/></svg>
<rect x="478.65" y="275.5" width="3.6" height="2.7" fill="none" stroke="#222" stroke-width="0.8"/>
<svg x="484.17" y="276.5" width="3.6" height="1.7" overflow="hidden"><rect width="3.6" height="1.7" fill="#fff"/></svg>
<rect x="484.17" y="276.5" width="3.6" height="1.7" fill="none" stroke="#222" stroke-width="0.8"/>
<line x1="466.4" y1="278.2" x2="466.4" y2="281" stroke="#777" stroke-width="0.8" />
<text x="466.4" y="290.6" font-size="9.35" text-anchor="middle" >8</text>
<line x1="495.33" y1="260.5" x2="495.33" y2="262.9" stroke="#444" stroke-width="0.7" />
<line x1="494.33" y1="260.5" x2="496.33" y2="260.5" stroke="#444" stroke-width="0.8" />
<svg x="493.53" y="262.9" width="3.6" height="15.3" overflow="hidden"><rect width="3.6" height="15.3" fill="#fff"/></svg>
<rect x="493.53" y="262.9" width="3.6" height="15.3" fill="none" stroke="#222" stroke-width="0.8"/>
<line x1="500.85" y1="254.6" x2="500.85" y2="258.2" stroke="#444" stroke-width="0.7" />
<line x1="499.85" y1="254.6" x2="501.85" y2="254.6" stroke="#444" stroke-width="0.8" />
<svg x="499.05" y="258.2" width="3.6" height="20" overflow="hidden"><rect width="3.6" height="20" fill="#fff"/><rect x="0.6" y="1.2" width="0.8" height="0.8" fill="#555"/><rect x="3.2" y="1.2" width="0.8" height="0.8" fill="#555"/><rect x="1.9" y="3.5" width="0.8" height="0.8" fill="#555"/><rect x="0.6" y="5.8" width="0.8" height="0.8" fill="#555"/><rect x="3.2" y="5.8" width="0.8" height="0.8" fill="#555"/><rect x="1.9" y="8.1" width="0.8" height="0.8" fill="#555"/><rect x="0.6" y="10.4" width="0.8" height="0.8" fill="#555"/><rect x="3.2" y="10.4" width="0.8" height="0.8" fill="#555"/><rect x="1.9" y="12.7" width="0.8" height="0.8" fill="#555"/><rect x="0.6" y="15" width="0.8" height="0.8" fill="#555"/><rect x="3.2" y="15" width="0.8" height="0.8" fill="#555"/><rect x="1.9" y="17.3" width="0.8" height="0.8" fill="#555"/><rect x="0.6" y="19.6" width="0.8" height="0.8" fill="#555"/><rect x="3.2" y="19.6" width="0.8" height="0.8" fill="#555"/></svg>
<rect x="499.05" y="258.2" width="3.6" height="20" fill="none" stroke="#222" stroke-width="0.8"/>
<line x1="506.37" y1="264.4" x2="506.37" y2="265.4" stroke="#444" stroke-width="0.7" />
<line x1="505.37" y1="264.4" x2="507.37" y2="264.4" stroke="#444" stroke-width="0.8" />
<svg x="504.57" y="265.4" width="3.6" height="12.8" overflow="hidden"><rect width="3.6" height="12.8" fill="#fff"/><rect x="0" y="1.9" width="3.6" height="0.8" fill="#333"/><rect x="0" y="4.5" width="3.6" height="0.8" fill="#333"/><rect x="0" y="7.1" width="3.6" height="0.8" fill="#333"/><rect x="0" y="9.7" width="3.6" height="0.8" fill="#333"/><rect x="0" y="12.3" width="3.6" height="0.8" fill="#333"/></svg>
<rect x="504.57" y="265.4" width="3.6" height="12.8" fill="none" stroke="#222" stroke-width="0.8"/>
<line x1="511.89" y1="272.4" x2="511.89" y2="273.2" stroke="#444" stroke-width="0.7" />
<line x1="510.89" y1="272.4" x2="512.89" y2="272.4" stroke="#444" stroke-width="0.8" />
<svg x="510.09" y="273.2" width="3.6" height="5" overflow="hidden"><rect width="3.6" height="5" fill="#fff"/><rect x="0" y="1.9" width="3.6" height="0.85" fill="#333"/><rect x="1.4" y="0" width="0.8" height="1.9" fill="#333"/><rect x="0" y="4.5" width="3.6" height="0.85" fill="#333"/><rect x="-0.1" y="1.9" width="0.8" height="2.6" fill="#333"/><rect x="2.9" y="1.9" width="0.8" height="2.6" fill="#333"/><rect x="1.4" y="4.5" width="0.8" height="2.6" fill="#333"/></svg>
<rect x="510.09" y="273.2" width="3.6" height="5" fill="none" stroke="#222" stroke-width="0.8"/>
<line x1="517.41" y1="273" x2="517.41" y2="273.9" stroke="#444" stroke-width="0.7" />
<line x1="516.41" y1="273" x2="518.41" y2="273" stroke="#444" stroke-width="0.8" />
<svg x="515.61" y="273.9" width="3.6" height="4.3" overflow="hidden"><rect width="3.6" height="4.3" fill="#111"/><rect x="0" y="2.2" width="3.6" height="0.55" fill="#eee"/><rect x="1.5" y="2.8" width="0.6" height="2.3" fill="#eee"/></svg>
<rect x="515.61" y="273.9" width="3.6" height="4.3" fill="none" stroke="#222" stroke-width="0.8"/>
<svg x="521.13" y="273.9" width="3.6" height="4.3" overflow="hidden"><rect width="3.6" height="4.3" fill="#fff"/><path d="M0 0L3.6 4.6M3.6 0L0 4.6M0 4.6L3.6 9.2M3.6 4.6L0 9.2" stroke="#222" stroke-width="0.8" fill="none"/></svg>
<rect x="521.13" y="273.9" width="3.6" height="4.3" fill="none" stroke="#222" stroke-width="0.8"/>
<svg x="526.65" y="275.8" width="3.6" height="2.4" overflow="hidden"><rect width="3.6" height="2.4" fill="#fff"/></svg>
<rect x="526.65" y="275.8" width="3.6" height="2.4" fill="none" stroke="#222" stroke-width="0.8"/>
<svg x="532.17" y="276.5" width="3.6" height="1.7" overflow="hidden"><rect width="3.6" height="1.7" fill="#fff"/></svg>
<rect x="532.17" y="276.5" width="3.6" height="1.7" fill="none" stroke="#222" stroke-width="0.8"/>
<line x1="514.4" y1="278.2" x2="514.4" y2="281" stroke="#777" stroke-width="0.8" />
<text x="514.4" y="290.6" font-size="9.35" text-anchor="middle" >12</text>
<line x1="543.23" y1="250.3" x2="543.23" y2="253.1" stroke="#444" stroke-width="0.7" />
<line x1="542.23" y1="250.3" x2="544.23" y2="250.3" stroke="#444" stroke-width="0.8" />
<svg x="541.43" y="253.1" width="3.6" height="25.1" overflow="hidden"><rect width="3.6" height="25.1" fill="#fff"/></svg>
<rect x="541.43" y="253.1" width="3.6" height="25.1" fill="none" stroke="#222" stroke-width="0.8"/>
<line x1="548.75" y1="243.6" x2="548.75" y2="248.2" stroke="#444" stroke-width="0.7" />
<line x1="547.75" y1="243.6" x2="549.75" y2="243.6" stroke="#444" stroke-width="0.8" />
<svg x="546.95" y="248.2" width="3.6" height="30" overflow="hidden"><rect width="3.6" height="30" fill="#fff"/><rect x="0.6" y="1.2" width="0.8" height="0.8" fill="#555"/><rect x="3.2" y="1.2" width="0.8" height="0.8" fill="#555"/><rect x="1.9" y="3.5" width="0.8" height="0.8" fill="#555"/><rect x="0.6" y="5.8" width="0.8" height="0.8" fill="#555"/><rect x="3.2" y="5.8" width="0.8" height="0.8" fill="#555"/><rect x="1.9" y="8.1" width="0.8" height="0.8" fill="#555"/><rect x="0.6" y="10.4" width="0.8" height="0.8" fill="#555"/><rect x="3.2" y="10.4" width="0.8" height="0.8" fill="#555"/><rect x="1.9" y="12.7" width="0.8" height="0.8" fill="#555"/><rect x="0.6" y="15" width="0.8" height="0.8" fill="#555"/><rect x="3.2" y="15" width="0.8" height="0.8" fill="#555"/><rect x="1.9" y="17.3" width="0.8" height="0.8" fill="#555"/><rect x="0.6" y="19.6" width="0.8" height="0.8" fill="#555"/><rect x="3.2" y="19.6" width="0.8" height="0.8" fill="#555"/><rect x="1.9" y="21.9" width="0.8" height="0.8" fill="#555"/><rect x="0.6" y="24.2" width="0.8" height="0.8" fill="#555"/><rect x="3.2" y="24.2" width="0.8" height="0.8" fill="#555"/><rect x="1.9" y="26.5" width="0.8" height="0.8" fill="#555"/><rect x="0.6" y="28.8" width="0.8" height="0.8" fill="#555"/><rect x="3.2" y="28.8" width="0.8" height="0.8" fill="#555"/></svg>
<rect x="546.95" y="248.2" width="3.6" height="30" fill="none" stroke="#222" stroke-width="0.8"/>
<line x1="554.27" y1="257.4" x2="554.27" y2="258.2" stroke="#444" stroke-width="0.7" />
<line x1="553.27" y1="257.4" x2="555.27" y2="257.4" stroke="#444" stroke-width="0.8" />
<svg x="552.47" y="258.2" width="3.6" height="20" overflow="hidden"><rect width="3.6" height="20" fill="#fff"/><rect x="0" y="1.9" width="3.6" height="0.8" fill="#333"/><rect x="0" y="4.5" width="3.6" height="0.8" fill="#333"/><rect x="0" y="7.1" width="3.6" height="0.8" fill="#333"/><rect x="0" y="9.7" width="3.6" height="0.8" fill="#333"/><rect x="0" y="12.3" width="3.6" height="0.8" fill="#333"/><rect x="0" y="14.9" width="3.6" height="0.8" fill="#333"/><rect x="0" y="17.5" width="3.6" height="0.8" fill="#333"/></svg>
<rect x="552.47" y="258.2" width="3.6" height="20" fill="none" stroke="#222" stroke-width="0.8"/>
<line x1="559.79" y1="269" x2="559.79" y2="269.8" stroke="#444" stroke-width="0.7" />
<line x1="558.79" y1="269" x2="560.79" y2="269" stroke="#444" stroke-width="0.8" />
<svg x="557.99" y="269.8" width="3.6" height="8.4" overflow="hidden"><rect width="3.6" height="8.4" fill="#fff"/><rect x="0" y="1.9" width="3.6" height="0.85" fill="#333"/><rect x="1.4" y="0" width="0.8" height="1.9" fill="#333"/><rect x="0" y="4.5" width="3.6" height="0.85" fill="#333"/><rect x="-0.1" y="1.9" width="0.8" height="2.6" fill="#333"/><rect x="2.9" y="1.9" width="0.8" height="2.6" fill="#333"/><rect x="0" y="7.1" width="3.6" height="0.85" fill="#333"/><rect x="1.4" y="4.5" width="0.8" height="2.6" fill="#333"/><rect x="-0.1" y="7.1" width="0.8" height="2.6" fill="#333"/><rect x="2.9" y="7.1" width="0.8" height="2.6" fill="#333"/></svg>
<rect x="557.99" y="269.8" width="3.6" height="8.4" fill="none" stroke="#222" stroke-width="0.8"/>
<line x1="565.31" y1="269.6" x2="565.31" y2="271.1" stroke="#444" stroke-width="0.7" />
<line x1="564.31" y1="269.6" x2="566.31" y2="269.6" stroke="#444" stroke-width="0.8" />
<svg x="563.51" y="271.1" width="3.6" height="7.1" overflow="hidden"><rect width="3.6" height="7.1" fill="#111"/><rect x="0" y="2.2" width="3.6" height="0.55" fill="#eee"/><rect x="0" y="5.1" width="3.6" height="0.55" fill="#eee"/><rect x="1.5" y="2.8" width="0.6" height="2.3" fill="#eee"/></svg>
<rect x="563.51" y="271.1" width="3.6" height="7.1" fill="none" stroke="#222" stroke-width="0.8"/>
<svg x="569.03" y="270.7" width="3.6" height="7.5" overflow="hidden"><rect width="3.6" height="7.5" fill="#fff"/><path d="M0 0L3.6 4.6M3.6 0L0 4.6M0 4.6L3.6 9.2M3.6 4.6L0 9.2M0 9.2L3.6 13.8M3.6 9.2L0 13.8" stroke="#222" stroke-width="0.8" fill="none"/></svg>
<rect x="569.03" y="270.7" width="3.6" height="7.5" fill="none" stroke="#222" stroke-width="0.8"/>
<svg x="574.55" y="273.5" width="3.6" height="4.7" overflow="hidden"><rect width="3.6" height="4.7" fill="#fff"/><rect x="0" y="3.6" width="3.6" height="1.6" fill="#111"/></svg>
<rect x="574.55" y="273.5" width="3.6" height="4.7" fill="none" stroke="#222" stroke-width="0.8"/>
<svg x="580.07" y="276.6" width="3.6" height="1.6" overflow="hidden"><rect width="3.6" height="1.6" fill="#fff"/></svg>
<rect x="580.07" y="276.6" width="3.6" height="1.6" fill="none" stroke="#222" stroke-width="0.8"/>
<line x1="562.3" y1="278.2" x2="562.3" y2="281" stroke="#777" stroke-width="0.8" />
<text x="562.3" y="290.6" font-size="9.35" text-anchor="middle" >24</text>
<line x1="591.03" y1="224.3" x2="591.03" y2="230.3" stroke="#444" stroke-width="0.7" />
<line x1="590.03" y1="224.3" x2="592.03" y2="224.3" stroke="#444" stroke-width="0.8" />
<svg x="589.23" y="230.3" width="3.6" height="47.9" overflow="hidden"><rect width="3.6" height="47.9" fill="#fff"/></svg>
<rect x="589.23" y="230.3" width="3.6" height="47.9" fill="none" stroke="#222" stroke-width="0.8"/>
<line x1="596.55" y1="207.3" x2="596.55" y2="217.4" stroke="#444" stroke-width="0.7" />
<line x1="595.55" y1="207.3" x2="597.55" y2="207.3" stroke="#444" stroke-width="0.8" />
<svg x="594.75" y="217.4" width="3.6" height="60.8" overflow="hidden"><rect width="3.6" height="60.8" fill="#fff"/><rect x="0.6" y="1.2" width="0.8" height="0.8" fill="#555"/><rect x="3.2" y="1.2" width="0.8" height="0.8" fill="#555"/><rect x="1.9" y="3.5" width="0.8" height="0.8" fill="#555"/><rect x="0.6" y="5.8" width="0.8" height="0.8" fill="#555"/><rect x="3.2" y="5.8" width="0.8" height="0.8" fill="#555"/><rect x="1.9" y="8.1" width="0.8" height="0.8" fill="#555"/><rect x="0.6" y="10.4" width="0.8" height="0.8" fill="#555"/><rect x="3.2" y="10.4" width="0.8" height="0.8" fill="#555"/><rect x="1.9" y="12.7" width="0.8" height="0.8" fill="#555"/><rect x="0.6" y="15" width="0.8" height="0.8" fill="#555"/><rect x="3.2" y="15" width="0.8" height="0.8" fill="#555"/><rect x="1.9" y="17.3" width="0.8" height="0.8" fill="#555"/><rect x="0.6" y="19.6" width="0.8" height="0.8" fill="#555"/><rect x="3.2" y="19.6" width="0.8" height="0.8" fill="#555"/><rect x="1.9" y="21.9" width="0.8" height="0.8" fill="#555"/><rect x="0.6" y="24.2" width="0.8" height="0.8" fill="#555"/><rect x="3.2" y="24.2" width="0.8" height="0.8" fill="#555"/><rect x="1.9" y="26.5" width="0.8" height="0.8" fill="#555"/><rect x="0.6" y="28.8" width="0.8" height="0.8" fill="#555"/><rect x="3.2" y="28.8" width="0.8" height="0.8" fill="#555"/><rect x="1.9" y="31.1" width="0.8" height="0.8" fill="#555"/><rect x="0.6" y="33.4" width="0.8" height="0.8" fill="#555"/><rect x="3.2" y="33.4" width="0.8" height="0.8" fill="#555"/><rect x="1.9" y="35.7" width="0.8" height="0.8" fill="#555"/><rect x="0.6" y="38" width="0.8" height="0.8" fill="#555"/><rect x="3.2" y="38" width="0.8" height="0.8" fill="#555"/><rect x="1.9" y="40.3" width="0.8" height="0.8" fill="#555"/><rect x="0.6" y="42.6" width="0.8" height="0.8" fill="#555"/><rect x="3.2" y="42.6" width="0.8" height="0.8" fill="#555"/><rect x="1.9" y="44.9" width="0.8" height="0.8" fill="#555"/><rect x="0.6" y="47.2" width="0.8" height="0.8" fill="#555"/><rect x="3.2" y="47.2" width="0.8" height="0.8" fill="#555"/><rect x="1.9" y="49.5" width="0.8" height="0.8" fill="#555"/><rect x="0.6" y="51.8" width="0.8" height="0.8" fill="#555"/><rect x="3.2" y="51.8" width="0.8" height="0.8" fill="#555"/><rect x="1.9" y="54.1" width="0.8" height="0.8" fill="#555"/><rect x="0.6" y="56.4" width="0.8" height="0.8" fill="#555"/><rect x="3.2" y="56.4" width="0.8" height="0.8" fill="#555"/><rect x="1.9" y="58.7" width="0.8" height="0.8" fill="#555"/></svg>
<rect x="594.75" y="217.4" width="3.6" height="60.8" fill="none" stroke="#222" stroke-width="0.8"/>
<line x1="602.07" y1="235.4" x2="602.07" y2="238.4" stroke="#444" stroke-width="0.7" />
<line x1="601.07" y1="235.4" x2="603.07" y2="235.4" stroke="#444" stroke-width="0.8" />
<svg x="600.27" y="238.4" width="3.6" height="39.8" overflow="hidden"><rect width="3.6" height="39.8" fill="#fff"/><rect x="0" y="1.9" width="3.6" height="0.8" fill="#333"/><rect x="0" y="4.5" width="3.6" height="0.8" fill="#333"/><rect x="0" y="7.1" width="3.6" height="0.8" fill="#333"/><rect x="0" y="9.7" width="3.6" height="0.8" fill="#333"/><rect x="0" y="12.3" width="3.6" height="0.8" fill="#333"/><rect x="0" y="14.9" width="3.6" height="0.8" fill="#333"/><rect x="0" y="17.5" width="3.6" height="0.8" fill="#333"/><rect x="0" y="20.1" width="3.6" height="0.8" fill="#333"/><rect x="0" y="22.7" width="3.6" height="0.8" fill="#333"/><rect x="0" y="25.3" width="3.6" height="0.8" fill="#333"/><rect x="0" y="27.9" width="3.6" height="0.8" fill="#333"/><rect x="0" y="30.5" width="3.6" height="0.8" fill="#333"/><rect x="0" y="33.1" width="3.6" height="0.8" fill="#333"/><rect x="0" y="35.7" width="3.6" height="0.8" fill="#333"/><rect x="0" y="38.3" width="3.6" height="0.8" fill="#333"/></svg>
<rect x="600.27" y="238.4" width="3.6" height="39.8" fill="none" stroke="#222" stroke-width="0.8"/>
<line x1="607.59" y1="263.6" x2="607.59" y2="264.5" stroke="#444" stroke-width="0.7" />
<line x1="606.59" y1="263.6" x2="608.59" y2="263.6" stroke="#444" stroke-width="0.8" />
<svg x="605.79" y="264.5" width="3.6" height="13.7" overflow="hidden"><rect width="3.6" height="13.7" fill="#fff"/><rect x="0" y="1.9" width="3.6" height="0.85" fill="#333"/><rect x="1.4" y="0" width="0.8" height="1.9" fill="#333"/><rect x="0" y="4.5" width="3.6" height="0.85" fill="#333"/><rect x="-0.1" y="1.9" width="0.8" height="2.6" fill="#333"/><rect x="2.9" y="1.9" width="0.8" height="2.6" fill="#333"/><rect x="0" y="7.1" width="3.6" height="0.85" fill="#333"/><rect x="1.4" y="4.5" width="0.8" height="2.6" fill="#333"/><rect x="0" y="9.7" width="3.6" height="0.85" fill="#333"/><rect x="-0.1" y="7.1" width="0.8" height="2.6" fill="#333"/><rect x="2.9" y="7.1" width="0.8" height="2.6" fill="#333"/><rect x="0" y="12.3" width="3.6" height="0.85" fill="#333"/><rect x="1.4" y="9.7" width="0.8" height="2.6" fill="#333"/><rect x="-0.1" y="12.3" width="0.8" height="2.6" fill="#333"/><rect x="2.9" y="12.3" width="0.8" height="2.6" fill="#333"/></svg>
<rect x="605.79" y="264.5" width="3.6" height="13.7" fill="none" stroke="#222" stroke-width="0.8"/>
<line x1="613.11" y1="260.2" x2="613.11" y2="263.9" stroke="#444" stroke-width="0.7" />
<line x1="612.11" y1="260.2" x2="614.11" y2="260.2" stroke="#444" stroke-width="0.8" />
<svg x="611.31" y="263.9" width="3.6" height="14.3" overflow="hidden"><rect width="3.6" height="14.3" fill="#111"/><rect x="0" y="2.2" width="3.6" height="0.55" fill="#eee"/><rect x="0" y="5.1" width="3.6" height="0.55" fill="#eee"/><rect x="1.5" y="2.8" width="0.6" height="2.3" fill="#eee"/><rect x="0" y="8" width="3.6" height="0.55" fill="#eee"/><rect x="0" y="10.9" width="3.6" height="0.55" fill="#eee"/><rect x="1.5" y="8.6" width="0.6" height="2.3" fill="#eee"/><rect x="0" y="13.8" width="3.6" height="0.55" fill="#eee"/><rect x="1.5" y="14.4" width="0.6" height="2.3" fill="#eee"/></svg>
<rect x="611.31" y="263.9" width="3.6" height="14.3" fill="none" stroke="#222" stroke-width="0.8"/>
<svg x="616.83" y="266.4" width="3.6" height="11.8" overflow="hidden"><rect width="3.6" height="11.8" fill="#fff"/><path d="M0 0L3.6 4.6M3.6 0L0 4.6M0 4.6L3.6 9.2M3.6 4.6L0 9.2M0 9.2L3.6 13.8M3.6 9.2L0 13.8M0 13.8L3.6 18.4M3.6 13.8L0 18.4" stroke="#222" stroke-width="0.8" fill="none"/></svg>
<rect x="616.83" y="266.4" width="3.6" height="11.8" fill="none" stroke="#222" stroke-width="0.8"/>
<svg x="622.35" y="270.5" width="3.6" height="7.7" overflow="hidden"><rect width="3.6" height="7.7" fill="#fff"/><rect x="0" y="3.6" width="3.6" height="1.6" fill="#111"/></svg>
<rect x="622.35" y="270.5" width="3.6" height="7.7" fill="none" stroke="#222" stroke-width="0.8"/>
<svg x="627.87" y="276.2" width="3.6" height="2" overflow="hidden"><rect width="3.6" height="2" fill="#fff"/></svg>
<rect x="627.87" y="276.2" width="3.6" height="2" fill="none" stroke="#222" stroke-width="0.8"/>
<line x1="610.1" y1="278.2" x2="610.1" y2="281" stroke="#777" stroke-width="0.8" />
<text x="610.1" y="290.6" font-size="9.35" text-anchor="middle" >36</text>
<line x1="638.43" y1="186.4" x2="638.43" y2="195" stroke="#444" stroke-width="0.7" />
<line x1="637.43" y1="186.4" x2="639.43" y2="186.4" stroke="#444" stroke-width="0.8" />
<svg x="636.63" y="195" width="3.6" height="83.2" overflow="hidden"><rect width="3.6" height="83.2" fill="#fff"/></svg>
<rect x="636.63" y="195" width="3.6" height="83.2" fill="none" stroke="#222" stroke-width="0.8"/>
<line x1="643.95" y1="162.4" x2="643.95" y2="176.1" stroke="#444" stroke-width="0.7" />
<line x1="642.95" y1="162.4" x2="644.95" y2="162.4" stroke="#444" stroke-width="0.8" />
<svg x="642.15" y="176.1" width="3.6" height="102.1" overflow="hidden"><rect width="3.6" height="102.1" fill="#fff"/><rect x="0.6" y="1.2" width="0.8" height="0.8" fill="#555"/><rect x="3.2" y="1.2" width="0.8" height="0.8" fill="#555"/><rect x="1.9" y="3.5" width="0.8" height="0.8" fill="#555"/><rect x="0.6" y="5.8" width="0.8" height="0.8" fill="#555"/><rect x="3.2" y="5.8" width="0.8" height="0.8" fill="#555"/><rect x="1.9" y="8.1" width="0.8" height="0.8" fill="#555"/><rect x="0.6" y="10.4" width="0.8" height="0.8" fill="#555"/><rect x="3.2" y="10.4" width="0.8" height="0.8" fill="#555"/><rect x="1.9" y="12.7" width="0.8" height="0.8" fill="#555"/><rect x="0.6" y="15" width="0.8" height="0.8" fill="#555"/><rect x="3.2" y="15" width="0.8" height="0.8" fill="#555"/><rect x="1.9" y="17.3" width="0.8" height="0.8" fill="#555"/><rect x="0.6" y="19.6" width="0.8" height="0.8" fill="#555"/><rect x="3.2" y="19.6" width="0.8" height="0.8" fill="#555"/><rect x="1.9" y="21.9" width="0.8" height="0.8" fill="#555"/><rect x="0.6" y="24.2" width="0.8" height="0.8" fill="#555"/><rect x="3.2" y="24.2" width="0.8" height="0.8" fill="#555"/><rect x="1.9" y="26.5" width="0.8" height="0.8" fill="#555"/><rect x="0.6" y="28.8" width="0.8" height="0.8" fill="#555"/><rect x="3.2" y="28.8" width="0.8" height="0.8" fill="#555"/><rect x="1.9" y="31.1" width="0.8" height="0.8" fill="#555"/><rect x="0.6" y="33.4" width="0.8" height="0.8" fill="#555"/><rect x="3.2" y="33.4" width="0.8" height="0.8" fill="#555"/><rect x="1.9" y="35.7" width="0.8" height="0.8" fill="#555"/><rect x="0.6" y="38" width="0.8" height="0.8" fill="#555"/><rect x="3.2" y="38" width="0.8" height="0.8" fill="#555"/><rect x="1.9" y="40.3" width="0.8" height="0.8" fill="#555"/><rect x="0.6" y="42.6" width="0.8" height="0.8" fill="#555"/><rect x="3.2" y="42.6" width="0.8" height="0.8" fill="#555"/><rect x="1.9" y="44.9" width="0.8" height="0.8" fill="#555"/><rect x="0.6" y="47.2" width="0.8" height="0.8" fill="#555"/><rect x="3.2" y="47.2" width="0.8" height="0.8" fill="#555"/><rect x="1.9" y="49.5" width="0.8" height="0.8" fill="#555"/><rect x="0.6" y="51.8" width="0.8" height="0.8" fill="#555"/><rect x="3.2" y="51.8" width="0.8" height="0.8" fill="#555"/><rect x="1.9" y="54.1" width="0.8" height="0.8" fill="#555"/><rect x="0.6" y="56.4" width="0.8" height="0.8" fill="#555"/><rect x="3.2" y="56.4" width="0.8" height="0.8" fill="#555"/><rect x="1.9" y="58.7" width="0.8" height="0.8" fill="#555"/><rect x="0.6" y="61" width="0.8" height="0.8" fill="#555"/><rect x="3.2" y="61" width="0.8" height="0.8" fill="#555"/><rect x="1.9" y="63.3" width="0.8" height="0.8" fill="#555"/><rect x="0.6" y="65.6" width="0.8" height="0.8" fill="#555"/><rect x="3.2" y="65.6" width="0.8" height="0.8" fill="#555"/><rect x="1.9" y="67.9" width="0.8" height="0.8" fill="#555"/><rect x="0.6" y="70.2" width="0.8" height="0.8" fill="#555"/><rect x="3.2" y="70.2" width="0.8" height="0.8" fill="#555"/><rect x="1.9" y="72.5" width="0.8" height="0.8" fill="#555"/><rect x="0.6" y="74.8" width="0.8" height="0.8" fill="#555"/><rect x="3.2" y="74.8" width="0.8" height="0.8" fill="#555"/><rect x="1.9" y="77.1" width="0.8" height="0.8" fill="#555"/><rect x="0.6" y="79.4" width="0.8" height="0.8" fill="#555"/><rect x="3.2" y="79.4" width="0.8" height="0.8" fill="#555"/><rect x="1.9" y="81.7" width="0.8" height="0.8" fill="#555"/><rect x="0.6" y="84" width="0.8" height="0.8" fill="#555"/><rect x="3.2" y="84" width="0.8" height="0.8" fill="#555"/><rect x="1.9" y="86.3" width="0.8" height="0.8" fill="#555"/><rect x="0.6" y="88.6" width="0.8" height="0.8" fill="#555"/><rect x="3.2" y="88.6" width="0.8" height="0.8" fill="#555"/><rect x="1.9" y="90.9" width="0.8" height="0.8" fill="#555"/><rect x="0.6" y="93.2" width="0.8" height="0.8" fill="#555"/><rect x="3.2" y="93.2" width="0.8" height="0.8" fill="#555"/><rect x="1.9" y="95.5" width="0.8" height="0.8" fill="#555"/><rect x="0.6" y="97.8" width="0.8" height="0.8" fill="#555"/><rect x="3.2" y="97.8" width="0.8" height="0.8" fill="#555"/><rect x="1.9" y="100.1" width="0.8" height="0.8" fill="#555"/></svg>
<rect x="642.15" y="176.1" width="3.6" height="102.1" fill="none" stroke="#222" stroke-width="0.8"/>
<line x1="649.47" y1="201.2" x2="649.47" y2="206.7" stroke="#444" stroke-width="0.7" />
<line x1="648.47" y1="201.2" x2="650.47" y2="201.2" stroke="#444" stroke-width="0.8" />
<svg x="647.67" y="206.7" width="3.6" height="71.5" overflow="hidden"><rect width="3.6" height="71.5" fill="#fff"/><rect x="0" y="1.9" width="3.6" height="0.8" fill="#333"/><rect x="0" y="4.5" width="3.6" height="0.8" fill="#333"/><rect x="0" y="7.1" width="3.6" height="0.8" fill="#333"/><rect x="0" y="9.7" width="3.6" height="0.8" fill="#333"/><rect x="0" y="12.3" width="3.6" height="0.8" fill="#333"/><rect x="0" y="14.9" width="3.6" height="0.8" fill="#333"/><rect x="0" y="17.5" width="3.6" height="0.8" fill="#333"/><rect x="0" y="20.1" width="3.6" height="0.8" fill="#333"/><rect x="0" y="22.7" width="3.6" height="0.8" fill="#333"/><rect x="0" y="25.3" width="3.6" height="0.8" fill="#333"/><rect x="0" y="27.9" width="3.6" height="0.8" fill="#333"/><rect x="0" y="30.5" width="3.6" height="0.8" fill="#333"/><rect x="0" y="33.1" width="3.6" height="0.8" fill="#333"/><rect x="0" y="35.7" width="3.6" height="0.8" fill="#333"/><rect x="0" y="38.3" width="3.6" height="0.8" fill="#333"/><rect x="0" y="40.9" width="3.6" height="0.8" fill="#333"/><rect x="0" y="43.5" width="3.6" height="0.8" fill="#333"/><rect x="0" y="46.1" width="3.6" height="0.8" fill="#333"/><rect x="0" y="48.7" width="3.6" height="0.8" fill="#333"/><rect x="0" y="51.3" width="3.6" height="0.8" fill="#333"/><rect x="0" y="53.9" width="3.6" height="0.8" fill="#333"/><rect x="0" y="56.5" width="3.6" height="0.8" fill="#333"/><rect x="0" y="59.1" width="3.6" height="0.8" fill="#333"/><rect x="0" y="61.7" width="3.6" height="0.8" fill="#333"/><rect x="0" y="64.3" width="3.6" height="0.8" fill="#333"/><rect x="0" y="66.9" width="3.6" height="0.8" fill="#333"/><rect x="0" y="69.5" width="3.6" height="0.8" fill="#333"/></svg>
<rect x="647.67" y="206.7" width="3.6" height="71.5" fill="none" stroke="#222" stroke-width="0.8"/>
<line x1="654.99" y1="257.5" x2="654.99" y2="258.4" stroke="#444" stroke-width="0.7" />
<line x1="653.99" y1="257.5" x2="655.99" y2="257.5" stroke="#444" stroke-width="0.8" />
<svg x="653.19" y="258.4" width="3.6" height="19.8" overflow="hidden"><rect width="3.6" height="19.8" fill="#fff"/><rect x="0" y="1.9" width="3.6" height="0.85" fill="#333"/><rect x="1.4" y="0" width="0.8" height="1.9" fill="#333"/><rect x="0" y="4.5" width="3.6" height="0.85" fill="#333"/><rect x="-0.1" y="1.9" width="0.8" height="2.6" fill="#333"/><rect x="2.9" y="1.9" width="0.8" height="2.6" fill="#333"/><rect x="0" y="7.1" width="3.6" height="0.85" fill="#333"/><rect x="1.4" y="4.5" width="0.8" height="2.6" fill="#333"/><rect x="0" y="9.7" width="3.6" height="0.85" fill="#333"/><rect x="-0.1" y="7.1" width="0.8" height="2.6" fill="#333"/><rect x="2.9" y="7.1" width="0.8" height="2.6" fill="#333"/><rect x="0" y="12.3" width="3.6" height="0.85" fill="#333"/><rect x="1.4" y="9.7" width="0.8" height="2.6" fill="#333"/><rect x="0" y="14.9" width="3.6" height="0.85" fill="#333"/><rect x="-0.1" y="12.3" width="0.8" height="2.6" fill="#333"/><rect x="2.9" y="12.3" width="0.8" height="2.6" fill="#333"/><rect x="0" y="17.5" width="3.6" height="0.85" fill="#333"/><rect x="1.4" y="14.9" width="0.8" height="2.6" fill="#333"/><rect x="-0.1" y="17.5" width="0.8" height="2.6" fill="#333"/><rect x="2.9" y="17.5" width="0.8" height="2.6" fill="#333"/></svg>
<rect x="653.19" y="258.4" width="3.6" height="19.8" fill="none" stroke="#222" stroke-width="0.8"/>
<line x1="660.51" y1="252.3" x2="660.51" y2="257.2" stroke="#444" stroke-width="0.7" />
<line x1="659.51" y1="252.3" x2="661.51" y2="252.3" stroke="#444" stroke-width="0.8" />
<svg x="658.71" y="257.2" width="3.6" height="21" overflow="hidden"><rect width="3.6" height="21" fill="#111"/><rect x="0" y="2.2" width="3.6" height="0.55" fill="#eee"/><rect x="0" y="5.1" width="3.6" height="0.55" fill="#eee"/><rect x="1.5" y="2.8" width="0.6" height="2.3" fill="#eee"/><rect x="0" y="8" width="3.6" height="0.55" fill="#eee"/><rect x="0" y="10.9" width="3.6" height="0.55" fill="#eee"/><rect x="1.5" y="8.6" width="0.6" height="2.3" fill="#eee"/><rect x="0" y="13.8" width="3.6" height="0.55" fill="#eee"/><rect x="0" y="16.7" width="3.6" height="0.55" fill="#eee"/><rect x="1.5" y="14.4" width="0.6" height="2.3" fill="#eee"/><rect x="0" y="19.6" width="3.6" height="0.55" fill="#eee"/><rect x="1.5" y="20.2" width="0.6" height="2.3" fill="#eee"/></svg>
<rect x="658.71" y="257.2" width="3.6" height="21" fill="none" stroke="#222" stroke-width="0.8"/>
<svg x="664.23" y="260.2" width="3.6" height="18" overflow="hidden"><rect width="3.6" height="18" fill="#fff"/><path d="M0 0L3.6 4.6M3.6 0L0 4.6M0 4.6L3.6 9.2M3.6 4.6L0 9.2M0 9.2L3.6 13.8M3.6 9.2L0 13.8M0 13.8L3.6 18.4M3.6 13.8L0 18.4M0 18.4L3.6 23M3.6 18.4L0 23" stroke="#222" stroke-width="0.8" fill="none"/></svg>
<rect x="664.23" y="260.2" width="3.6" height="18" fill="none" stroke="#222" stroke-width="0.8"/>
<svg x="669.75" y="267.4" width="3.6" height="10.8" overflow="hidden"><rect width="3.6" height="10.8" fill="#fff"/><rect x="0" y="3.6" width="3.6" height="1.6" fill="#111"/><rect x="0" y="8.5" width="3.6" height="1.6" fill="#111"/></svg>
<rect x="669.75" y="267.4" width="3.6" height="10.8" fill="none" stroke="#222" stroke-width="0.8"/>
<svg x="675.27" y="276.6" width="3.6" height="1.6" overflow="hidden"><rect width="3.6" height="1.6" fill="#fff"/></svg>
<rect x="675.27" y="276.6" width="3.6" height="1.6" fill="none" stroke="#222" stroke-width="0.8"/>
<line x1="657.5" y1="278.2" x2="657.5" y2="281" stroke="#777" stroke-width="0.8" />
<text x="657.5" y="290.6" font-size="9.35" text-anchor="middle" >48</text>
<text x="681.3" y="290.4" font-size="8.6" text-anchor="middle" style="fill:#777;stroke:none">1</text>
<svg x="422.4" y="103.2" width="12.2" height="6.6" overflow="hidden"><rect width="12.2" height="6.6" fill="#fff"/></svg>
<rect x="422.4" y="103.2" width="12.2" height="6.6" fill="none" stroke="#222" stroke-width="0.8"/>
<text x="442" y="109.7" font-size="9.35" text-anchor="start" >Cixutumumab</text>
<svg x="422.4" y="116.2" width="12.2" height="8.1" overflow="hidden"><rect width="12.2" height="8.1" fill="#fff"/><rect x="0.6" y="1.2" width="0.8" height="0.8" fill="#555"/><rect x="3.2" y="1.2" width="0.8" height="0.8" fill="#555"/><rect x="5.8" y="1.2" width="0.8" height="0.8" fill="#555"/><rect x="8.4" y="1.2" width="0.8" height="0.8" fill="#555"/><rect x="11" y="1.2" width="0.8" height="0.8" fill="#555"/><rect x="1.9" y="3.5" width="0.8" height="0.8" fill="#555"/><rect x="4.5" y="3.5" width="0.8" height="0.8" fill="#555"/><rect x="7.1" y="3.5" width="0.8" height="0.8" fill="#555"/><rect x="9.7" y="3.5" width="0.8" height="0.8" fill="#555"/><rect x="0.6" y="5.8" width="0.8" height="0.8" fill="#555"/><rect x="3.2" y="5.8" width="0.8" height="0.8" fill="#555"/><rect x="5.8" y="5.8" width="0.8" height="0.8" fill="#555"/><rect x="8.4" y="5.8" width="0.8" height="0.8" fill="#555"/><rect x="11" y="5.8" width="0.8" height="0.8" fill="#555"/></svg>
<rect x="422.4" y="116.2" width="12.2" height="8.1" fill="none" stroke="#222" stroke-width="0.8"/>
<text x="442" y="122.5" font-size="9.35" text-anchor="start" >Cixutumumab-PEG<tspan font-size="7" dy="2.3">6</tspan><tspan dy="-2.3">-DM1-Low</tspan></text>
<svg x="422.4" y="129" width="12.2" height="8.5" overflow="hidden"><rect width="12.2" height="8.5" fill="#fff"/><rect x="0" y="1.9" width="12.2" height="0.8" fill="#333"/><rect x="0" y="4.5" width="12.2" height="0.8" fill="#333"/><rect x="0" y="7.1" width="12.2" height="0.8" fill="#333"/></svg>
<rect x="422.4" y="129" width="12.2" height="8.5" fill="none" stroke="#222" stroke-width="0.8"/>
<text x="442" y="134.9" font-size="9.35" text-anchor="start" >Cixutumumab-PEG<tspan font-size="7" dy="2.3">6</tspan><tspan dy="-2.3">-DM1-High</tspan></text>
<svg x="422.4" y="140.4" width="13" height="7.2" overflow="hidden"><rect width="13" height="7.2" fill="#777"/><rect x="0.7" y="0.75" width="3.4" height="1.2" fill="#fff"/><rect x="4.9" y="0.75" width="3.4" height="1.2" fill="#fff"/><rect x="9.1" y="0.75" width="3.3" height="1.2" fill="#fff"/><rect x="0.6" y="3.15" width="1.4" height="1.2" fill="#fff"/><rect x="2.8" y="3.15" width="3.4" height="1.2" fill="#fff"/><rect x="7" y="3.15" width="3.4" height="1.2" fill="#fff"/><rect x="11.2" y="3.15" width="1.2" height="1.2" fill="#fff"/><rect x="0.7" y="5.55" width="3.4" height="1.2" fill="#fff"/><rect x="4.9" y="5.55" width="3.4" height="1.2" fill="#fff"/><rect x="9.1" y="5.55" width="3.3" height="1.2" fill="#fff"/></svg>
<rect x="422.4" y="140.4" width="13" height="7.2" fill="none" stroke="#222" stroke-width="0.8"/>
<text x="442" y="146.9" font-size="9.35" text-anchor="start" >DOTA-cixutumumab</text>
<svg x="422.4" y="153" width="13" height="8.6" overflow="hidden"><rect width="13" height="8.6" fill="#111"/><rect x="0" y="2.2" width="13" height="0.55" fill="#eee"/><rect x="1.91" y="0.6" width="0.6" height="1.6" fill="#eee"/><rect x="6.2" y="0.6" width="0.6" height="1.6" fill="#eee"/><rect x="10.49" y="0.6" width="0.6" height="1.6" fill="#eee"/><rect x="0" y="5.1" width="13" height="0.55" fill="#eee"/><rect x="3.99" y="2.8" width="0.6" height="2.3" fill="#eee"/><rect x="8.41" y="2.8" width="0.6" height="2.3" fill="#eee"/><rect x="0" y="8" width="13" height="0.55" fill="#eee"/><rect x="1.91" y="5.7" width="0.6" height="2.3" fill="#eee"/><rect x="6.2" y="5.7" width="0.6" height="2.3" fill="#eee"/><rect x="10.49" y="5.7" width="0.6" height="2.3" fill="#eee"/><rect x="3.99" y="8.6" width="0.6" height="2.3" fill="#eee"/><rect x="8.41" y="8.6" width="0.6" height="2.3" fill="#eee"/></svg>
<rect x="422.4" y="153" width="13" height="8.6" fill="none" stroke="#222" stroke-width="0.8"/>
<text x="442" y="159.8" font-size="9.35" text-anchor="start" >DOTA-cixutumumab-PEG<tspan font-size="7" dy="2.3">6</tspan><tspan dy="-2.3">-DM1-Low</tspan></text>
<svg x="422.4" y="166.3" width="13" height="8.7" overflow="hidden"><rect width="13" height="8.7" fill="#fff"/><path d="M-19 0L-10.3 8.7M-15.8 0L-24.5 8.7M-13.4 0L-4.7 8.7M-10.2 0L-18.9 8.7M-7.8 0L0.9 8.7M-4.6 0L-13.3 8.7M-2.2 0L6.5 8.7M1 0L-7.7 8.7M3.4 0L12.1 8.7M6.6 0L-2.1 8.7M9 0L17.7 8.7M12.2 0L3.5 8.7M14.6 0L23.3 8.7M17.8 0L9.1 8.7M20.2 0L28.9 8.7M23.4 0L14.7 8.7M25.8 0L34.5 8.7M29 0L20.3 8.7M31.4 0L40.1 8.7M34.6 0L25.9 8.7" stroke="#222" stroke-width="1.0" fill="none"/></svg>
<rect x="422.4" y="166.3" width="13" height="8.7" fill="none" stroke="#222" stroke-width="0.8"/>
<text x="442" y="172.4" font-size="9.35" text-anchor="start" >DOTA-cixutumumab-PEG<tspan font-size="7" dy="2.3">6</tspan><tspan dy="-2.3">-DM1-High</tspan></text>
<svg x="422.4" y="179.8" width="13" height="6.8" overflow="hidden"><rect width="13" height="6.8" fill="#fff"/><rect x="0" y="3.3" width="13" height="1.6" fill="#111"/></svg>
<rect x="422.4" y="179.8" width="13" height="6.8" fill="none" stroke="#222" stroke-width="0.8"/>
<text x="442" y="185.8" font-size="9.35" text-anchor="start" >DOTA-human-IgG</text>
<svg x="422.4" y="192.4" width="13" height="7.2" overflow="hidden"><rect width="13" height="7.2" fill="#fff"/><rect x="2.75" y="0" width="0.7" height="7.2" fill="#444"/><rect x="5.85" y="0" width="0.7" height="7.2" fill="#444"/><rect x="8.95" y="0" width="0.7" height="7.2" fill="#444"/><rect x="12.05" y="0" width="0.7" height="7.2" fill="#444"/></svg>
<rect x="422.4" y="192.4" width="13" height="7.2" fill="none" stroke="#222" stroke-width="0.8"/>
<text x="442" y="198.6" font-size="9.35" text-anchor="start" >PBS Control</text>
</svg></body></html>
